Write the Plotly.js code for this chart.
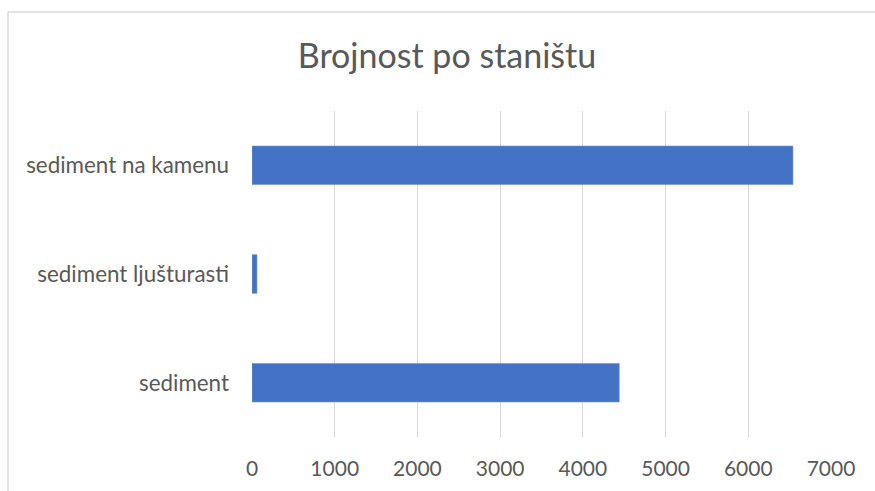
<!DOCTYPE html>
<html>
<head>
<meta charset="utf-8">
<script src="https://cdn.plot.ly/plotly-3.0.1.min.js"></script>
<style>html,body{margin:0;padding:0;background:#fff;}#chart{width:875px;height:491px;}</style>
</head>
<body>
<div id="chart"></div>
<script>
const categories = ["sediment", "sediment ljušturasti", "sediment na kamenu"];
const values = [4440, 60, 6540];
const tickValues = [0, 1000, 2000, 3000, 4000, 5000, 6000, 7000];
const tickLabels = ["0", "1000", "2000", "3000", "4000", "5000", "6000", "7000"];
const chartTitle = "Brojnost po staništu";

const W = 875, H = 491;
const mL = 252, mR = 44, mT = 111, mB = 54;
const pw = W - mL - mR, ph = H - mT - mB;
const px = v => (v - mL) / pw;
const py = v => (H - mB - v) / ph;

const trace = {
  type: "bar",
  orientation: "h",
  x: values,
  y: categories,
  width: 0.355,
  marker: {color: "#4472C4", line: {color: "#6f93d3", width: 0.6}},
  hoverinfo: "skip"
};

const layout = {
  width: W, height: H,
  margin: {l: mL, r: mR, t: mT, b: mB, pad: 0},
  paper_bgcolor: "#ffffff",
  plot_bgcolor: "#ffffff",
  showlegend: false,
  font: {family: "Lato, 'Open Sans', sans-serif", color: "#595959", size: 20},
  title: {
    text: chartTitle,
    font: {family: "Lato, 'Open Sans', sans-serif", size: 34, color: "#595959"},
    x: 447 / W, xanchor: "center", xref: "container",
    y: 1 - 56 / H, yanchor: "middle", yref: "container"
  },
  xaxis: {
    range: [0, 7000],
    tickvals: tickValues,
    ticktext: tickLabels,
    showgrid: true,
    gridcolor: "#d9d9d9",
    gridwidth: 1.2,
    zeroline: false,
    showline: false,
    ticks: "",
    ticklabelstandoff: 17,
    tickfont: {size: 21, color: "#595959"},
    fixedrange: true
  },
  yaxis: {
    type: "category",
    categoryorder: "array",
    categoryarray: categories,
    range: [-0.5, 2.5],
    showgrid: false,
    zeroline: false,
    showline: false,
    ticks: "",
    ticklabelstandoff: 22,
    tickfont: {size: 22.4, color: "#595959"},
    fixedrange: true
  },
  shapes: [
    {type: "line", xref: "paper", yref: "paper", x0: px(8), x1: px(880), y0: py(12), y1: py(12), line: {color: "#d9d9d9", width: 1.5}},
    {type: "line", xref: "paper", yref: "paper", x0: px(8), x1: px(8), y0: py(12), y1: py(500), line: {color: "#d9d9d9", width: 1.5}}
  ]
};

Plotly.newPlot("chart", [trace], layout, {displayModeBar: false, staticPlot: true});
</script>
</body>
</html>
